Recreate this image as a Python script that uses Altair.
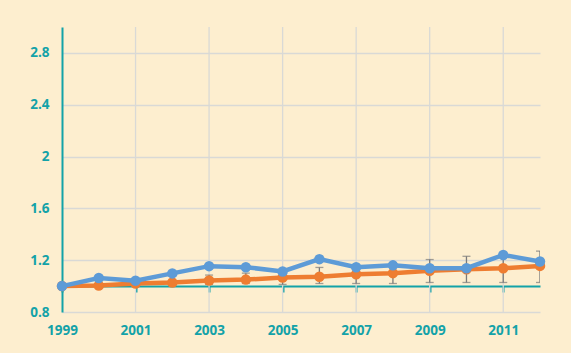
import altair as alt
import pandas as pd

years = list(range(1999, 2013))
blue = [1.0, 1.063, 1.042, 1.098, 1.154, 1.146, 1.113, 1.208, 1.146, 1.16, 1.138, 1.138, 1.24, 1.19]
orange = [1.0, 1.004, 1.02, 1.028, 1.043, 1.05, 1.066, 1.072, 1.092, 1.10, 1.118, 1.13, 1.138, 1.156]
err_years = list(range(2001, 2013))
err_lo = [1.0, 1.0, 1.013, 1.02, 1.013, 1.02, 1.02, 1.02, 1.028, 1.028, 1.028, 1.028]
err_hi = [1.055, 1.10, 1.085, 1.10, 1.12, 1.144, 1.16, 1.18, 1.205, 1.23, 1.245, 1.27]
grid_years = [2001, 2003, 2005, 2007, 2009, 2011]
y_ticks = [0.8, 1.2, 1.6, 2.0, 2.4, 2.8]

TEAL = "#13a2a8"
BG = "#fdeecf"
GRID = "#d9d9d6"
BLUE = "#5d9bd7"
ORANGE = "#ee7d31"
FONT = "Open Sans"

df = pd.DataFrame({"year": years, "blue": blue, "orange": orange})
err = pd.DataFrame({"year": err_years, "lo": err_lo, "hi": err_hi})
grid = pd.DataFrame({"year": grid_years})

xs = alt.Scale(domain=[1999, 2012], nice=False, zero=False)
ys = alt.Scale(domain=[0.8, 3.0], nice=False, zero=False)

x_axis = alt.Axis(
    values=years, format="d",
    labelExpr="datum.value % 2 == 1 ? datum.label : ''",
    offset=-26, domainColor=TEAL, domainWidth=2, tickColor=TEAL, tickWidth=2,
    tickSize=6, labelPadding=31, labelColor=TEAL, labelFont=FONT,
    labelFontWeight="bold", labelFontSize=13.5, grid=False, title=None,
    labelFlush=False,
)
y_axis = alt.Axis(
    values=y_ticks, format="~g", domainColor=TEAL, domainWidth=2,
    ticks=False, labelPadding=13, labelColor=TEAL, labelFont=FONT,
    labelFontWeight="bold", labelFontSize=13.5, grid=True, gridColor=GRID,
    gridWidth=1.3, title=None,
)

base = alt.Chart(df)

vgrid = alt.Chart(grid).mark_rule(color=GRID, strokeWidth=1.3).encode(
    x=alt.X("year:Q", scale=xs, axis=x_axis),
    y=alt.value(0), y2=alt.value(285),
)

err_rule = alt.Chart(err).mark_rule(color="#7a7a7a", strokeWidth=1.3, clip=True).encode(
    x=alt.X("year:Q", scale=xs),
    y=alt.Y("lo:Q", scale=ys, axis=y_axis), y2="hi:Q",
)
err_top = alt.Chart(err).mark_tick(color="#7a7a7a", thickness=1.3, size=8, orient="horizontal", clip=True).encode(
    x=alt.X("year:Q", scale=xs), y=alt.Y("hi:Q", scale=ys),
)
err_bot = alt.Chart(err).mark_tick(color="#7a7a7a", thickness=1.3, size=8, orient="horizontal", clip=True).encode(
    x=alt.X("year:Q", scale=xs), y=alt.Y("lo:Q", scale=ys),
)

orange_line = base.mark_line(color=ORANGE, strokeWidth=4.5, point=alt.OverlayMarkDef(color=ORANGE, size=110, opacity=1, filled=True)).encode(
    x=alt.X("year:Q", scale=xs), y=alt.Y("orange:Q", scale=ys),
)
blue_line = base.mark_line(color=BLUE, strokeWidth=4.5, point=alt.OverlayMarkDef(color=BLUE, size=110, opacity=1, filled=True)).encode(
    x=alt.X("year:Q", scale=xs), y=alt.Y("blue:Q", scale=ys),
)

chart = alt.layer(vgrid, err_rule, err_top, err_bot, orange_line, blue_line).properties(
    width=478, height=285,
    autosize=alt.AutoSizeParams(type="none"),
    padding={"left": 62, "top": 27, "right": 31, "bottom": 41},
    background=BG,
).configure_view(stroke=None)

chart.save("out.html", embed_options={"renderer": "svg", "actions": False})
